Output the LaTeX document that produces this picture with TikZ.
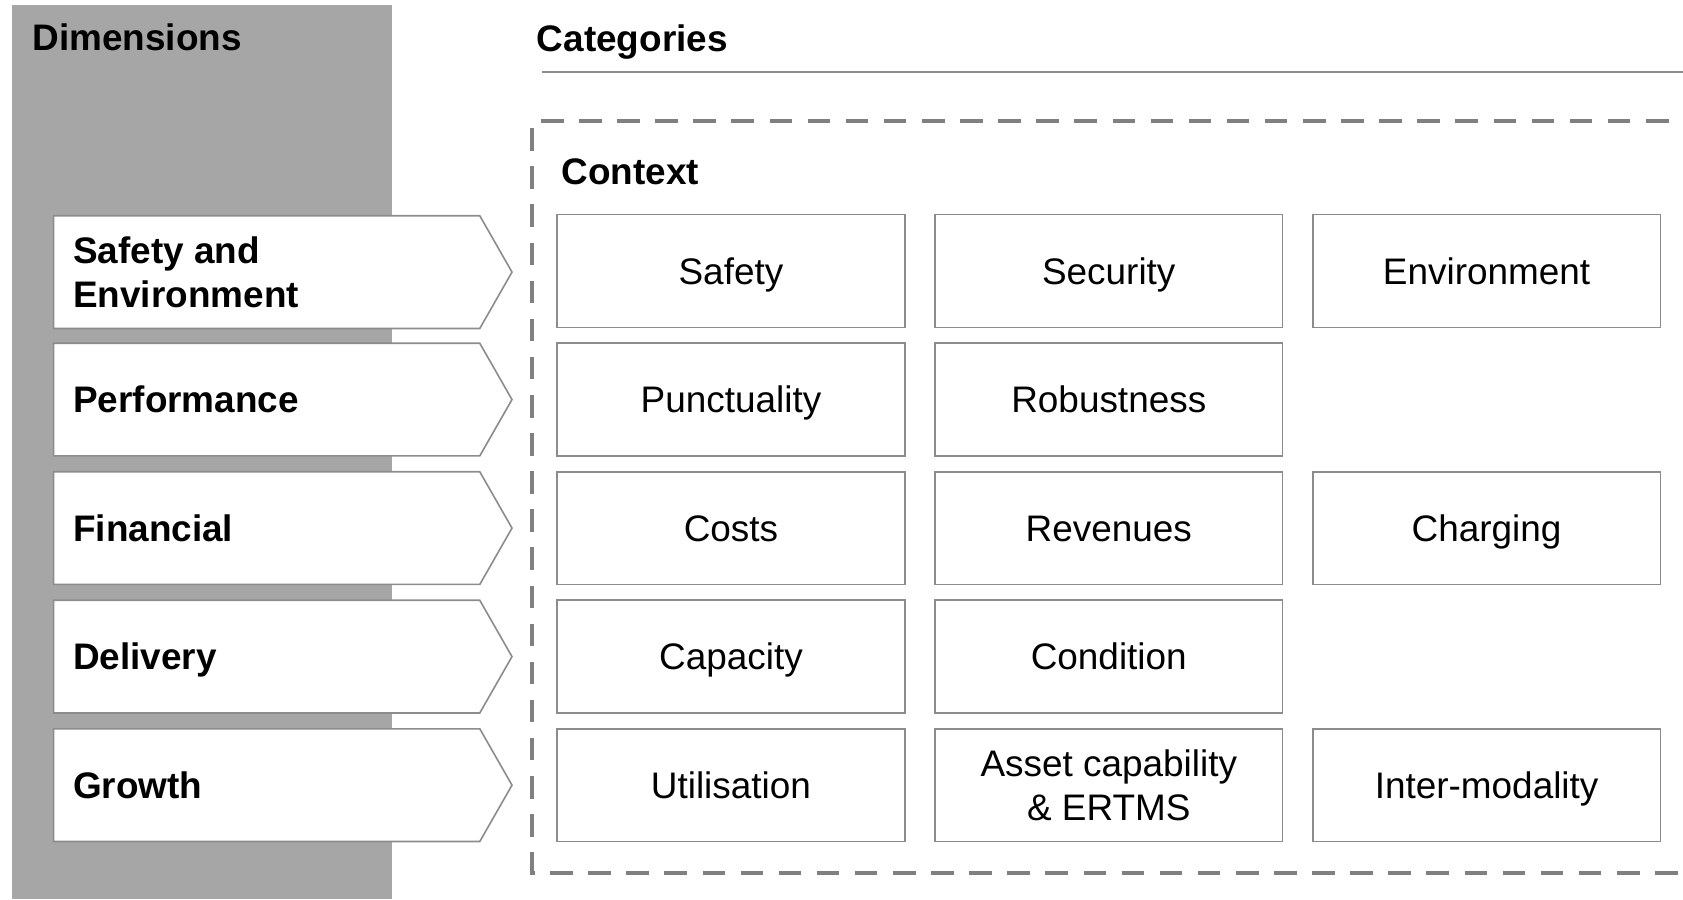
\documentclass[tikz,border=0pt]{standalone}
\usepackage{fontspec}
\setmainfont{Liberation Sans}
\definecolor{panel}{HTML}{A6A6A6}
\definecolor{edge}{HTML}{8C8C8C}
\definecolor{dashc}{HTML}{808080}
\tikzset{
  catbase/.style={draw=edge, line width=1.5pt, fill=white, minimum width=324pt,
    minimum height=105pt, inner sep=0pt, align=center,
    font=\fontsize{34.4}{41}\selectfont},
  catbox/.style={catbase, text height=24.6pt, text depth=0pt},
  dimshape/.style={draw=edge, line width=1.5pt, fill=white},
  dimbase/.style={anchor=west, inner sep=0pt, align=left,
    font=\fontsize{34.4}{41}\selectfont\bfseries},
  dimlabel/.style={dimbase, text height=24.6pt, text depth=0pt},
  heading/.style={anchor=base west, inner sep=0pt,
    font=\fontsize{34.4}{41}\selectfont\bfseries},
  framedash/.style={draw=dashc, line width=3.7pt, dash pattern=on 21pt off 14.5pt}
}
\newcommand{\dimarrow}[4]{%
  \path[dimshape] (50,#2-52.5) -- (447,#2-52.5) -- (477,#2) -- (447,#2+52.5) -- (50,#2+52.5) -- cycle;
  \node[#4] (#1) at (68,#2) {#3};
}
\begin{document}
\begin{tikzpicture}[x=1pt,y=-1pt]
\useasboundingbox (0,0) rectangle (1568,838);
\clip (0,0) rectangle (1568,838);
% left panel
\fill[panel] (11,5) rectangle (365,838);
\node[heading] (dimhead) at (30,47) {Dimensions};
% categories heading
\node[heading] (cathead) at (500,48) {Categories};
\coordinate (lineL) at (505,67);
\coordinate (lineR) at (1568,67);
\draw[edge, line width=1.5pt] (lineL) -- (lineR);
% dashed frame
\coordinate (fTR) at (1590,113);
\coordinate (fTL) at (496,113);
\coordinate (fBL) at (496,813);
\coordinate (fBR) at (1590,813);
\draw[framedash] (fTR) -- (fTL) -- (fBL) -- (fBR);
\node[heading] (ctx) at (523,172) {Context};
% dimension arrows
\dimarrow{d1}{253.5}{Safety and\\Environment}{dimbase}
\dimarrow{d2}{372.25}{Performance}{dimlabel}
\dimarrow{d3}{492}{Financial}{dimlabel}
\dimarrow{d4}{611.75}{Delivery}{dimlabel}
\dimarrow{d5}{731.5}{Growth}{dimlabel}
% category boxes
\node[catbox] (c11) at (681,252.5) {Safety};
\node[catbox] (c12) at (1033,252.5) {Security};
\node[catbox] (c13) at (1385,252.5) {Environment};
\node[catbox] (c21) at (681,372.25) {Punctuality};
\node[catbox] (c22) at (1033,372.25) {Robustness};
\node[catbox] (c31) at (681,492) {Costs};
\node[catbox] (c32) at (1033,492) {Revenues};
\node[catbox] (c33) at (1385,492) {Charging};
\node[catbox] (c41) at (681,611.75) {Capacity};
\node[catbox] (c42) at (1033,611.75) {Condition};
\node[catbox] (c51) at (681,731.5) {Utilisation};
\node[catbase] (c52) at (1033,731.5) {Asset capability\\\& ERTMS};
\node[catbox] (c53) at (1385,731.5) {Inter-modality};
\end{tikzpicture}
\end{document}
